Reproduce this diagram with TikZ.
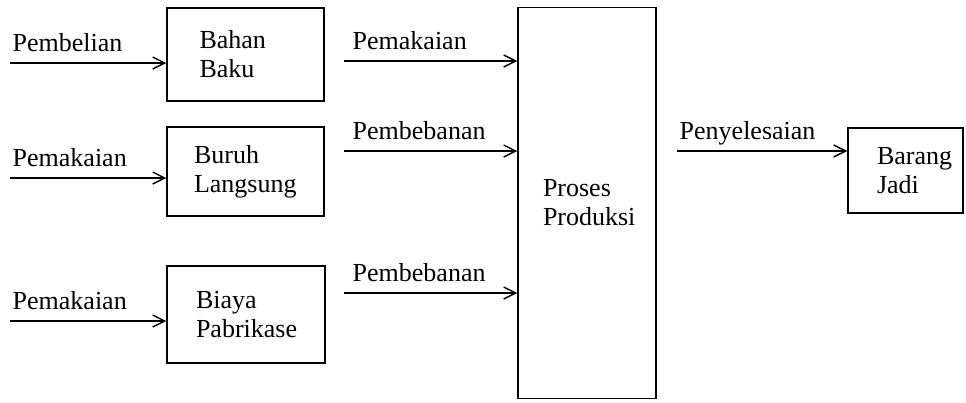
\documentclass[tikz,border=0pt]{standalone}
\usepackage{fontspec}
\setmainfont{Liberation Serif}
\usetikzlibrary{arrows.meta}
\usetikzlibrary{positioning}
\tikzset{
    box/.style = {rectangle, line width=1.5pt, draw=black, align=left, inner sep=0pt},
    edgen/.style = {-{Straight Barb[length=12pt,width=12pt,line width=1.4pt]},line width=1.4pt},
    lbl/.style = {anchor=base west, inner sep=0pt, yshift=12pt, xshift=2pt},
    every picture/.style={font issue=\fontsize{26}{29}},
    font issue/.style={execute at begin picture={#1\selectfont}
  }
}

\begin{document}
\begin{tikzpicture}[x=1pt,y=-1pt]
\useasboundingbox (0,0) rectangle (966,402);

\node[box, minimum width=157pt, minimum height=93pt, text width=92pt] at (245.5, 54.5) (bb) {Bahan\\Baku};
\node[box, minimum width=157pt, minimum height=89pt, text width=103pt] at (245.5,171.5) (bl) {Buruh\\Langsung};
\node[box, minimum width=158pt, minimum height=97pt, text width=100pt] at (246.0,314.5) (bp) {Biaya\\Pabrikase};
\node[box, minimum width=138pt, minimum height=391pt, text width=88pt] at (587.0,203.0) (pp) {Proses\\Produksi};
\node[box, minimum width=115pt, minimum height=85pt, text width=57pt] at (905.5,170.5) (bj) {Barang\\Jadi};

\coordinate (s1) at ( 10, 63);
\coordinate (s2) at ( 10,178);
\coordinate (s3) at ( 10,321);
\coordinate (m1) at (344, 61);
\coordinate (m2) at (344,151);
\coordinate (m3) at (344,293);
\coordinate (r1) at (677,151);

\draw[edgen] (s1) -- node[lbl,pos=0] {Pembelian} (bb.west |- s1);
\draw[edgen] (s2) -- node[lbl,pos=0] {Pemakaian} (bl.west |- s2);
\draw[edgen] (s3) -- node[lbl,pos=0] {Pemakaian} (bp.west |- s3);
\draw[edgen] (m1) -- node[lbl,pos=0,xshift=6pt] {Pemakaian} (pp.west |- m1);
\draw[edgen] (m2) -- node[lbl,pos=0,xshift=6pt] {Pembebanan} (pp.west |- m2);
\draw[edgen] (m3) -- node[lbl,pos=0,xshift=6pt] {Pembebanan} (pp.west |- m3);
\draw[edgen] (r1) -- node[lbl,pos=0] {Penyelesaian} (bj.west |- r1);

\end{tikzpicture}
\end{document}
